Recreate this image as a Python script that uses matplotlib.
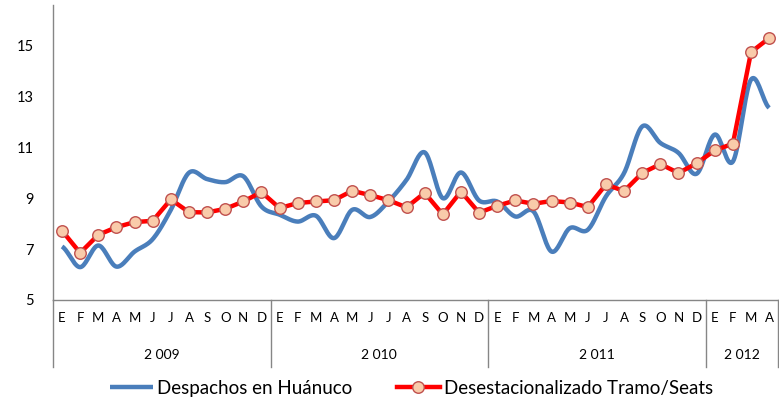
import matplotlib.pyplot as plt
import numpy as np

plt.rcParams['font.family'] = ['Lato', 'DejaVu Sans']

months = ['E', 'F', 'M', 'A', 'M', 'J', 'J', 'A', 'S', 'O', 'N', 'D'] * 3 + ['E', 'F', 'M', 'A']
years = ['2 009', '2 010', '2 011', '2 012']
year_len = [12, 12, 12, 4]

despachos = [7.10, 6.29, 7.14, 6.31, 6.90, 7.39, 8.54, 10.0, 9.75, 9.63, 9.86, 8.67,
             8.35, 8.08, 8.31, 7.43, 8.54, 8.26, 8.87, 9.72, 10.80, 9.00, 10.01, 8.91,
             8.87, 8.28, 8.48, 6.90, 7.82, 7.76, 9.07, 9.99, 11.82, 11.17, 10.78, 9.96,
             11.50, 10.44, 13.66, 12.55]
desest = [7.72, 6.85, 7.56, 7.86, 8.06, 8.11, 8.95, 8.45, 8.44, 8.58, 8.87, 9.24,
          8.61, 8.81, 8.87, 8.92, 9.29, 9.12, 8.92, 8.64, 9.21, 8.36, 9.26, 8.43,
          8.70, 8.91, 8.78, 8.89, 8.83, 8.65, 9.54, 9.28, 9.99, 10.34, 9.99, 10.37,
          10.88, 11.14, 14.74, 15.29]


def smooth(y, n=20):
    # Excel-style smoothed line (Catmull-Rom through the points)
    y = np.asarray(y, float)
    p = np.concatenate([[y[0]], y, [y[-1]]])
    xs, ys = [], []
    t = np.linspace(0, 1, n, endpoint=False)
    for i in range(len(y) - 1):
        p0, p1, p2, p3 = p[i], p[i + 1], p[i + 2], p[i + 3]
        m1 = (p2 - p0) / 2
        m2 = (p3 - p1) / 2
        h = (2*t**3 - 3*t**2 + 1)*p1 + (t**3 - 2*t**2 + t)*m1 + (-2*t**3 + 3*t**2)*p2 + (t**3 - t**2)*m2
        xs.extend(i + t)
        ys.extend(h)
    xs.append(len(y) - 1)
    ys.append(y[-1])
    return np.array(xs), np.array(ys)


x = np.arange(len(desest))
sx, sy = smooth(despachos)

fig = plt.figure(figsize=(7.79, 4.01), dpi=100)
ax = fig.add_axes([0.068, 0.252, 0.931, 0.736])

ax.plot(sx, sy, color='#4A7EBB', lw=3.2, label='Despachos en Huánuco', solid_capstyle='butt')
ax.plot(x, desest, color='#FF0000', lw=3.2, marker='o', ms=8.3, mfc='#F9CBAA', mec='#C0504D',
        mew=1.0, label='Desestacionalizado Tramo/Seats', zorder=3)

ax.set_xlim(-0.5, len(x) - 0.5)
ax.set_ylim(5, 16.6)
ax.set_yticks([5, 7, 9, 11, 13, 15])
ax.tick_params(axis='y', length=0, labelsize=10.5, pad=14)
ax.set_xticks(x)
ax.set_xticklabels(months)
ax.tick_params(axis='x', length=0, labelsize=9.5, pad=9)

for s in ['top', 'right']:
    ax.spines[s].set_visible(False)
for s in ['left', 'bottom']:
    ax.spines[s].set_color('#868686')
    ax.spines[s].set_linewidth(1.0)

# year separators and labels
tr = ax.get_xaxis_transform()
edges = np.concatenate([[0], np.cumsum(year_len)]) - 0.5
for e in edges:
    ax.plot([e, e], [0, -0.227], transform=tr, color='#868686', lw=1.0, clip_on=False)
for i, yr in enumerate(years):
    ax.text((edges[i] + edges[i + 1]) / 2, -0.186, yr, transform=tr, ha='center', va='center',
            fontsize=10)

fig.legend(loc='center', bbox_to_anchor=(0.528, 0.032), ncol=2, frameon=False, fontsize=13.5,
           handlelength=2.3, columnspacing=2.4, handletextpad=0.2)

fig.savefig('out.png', dpi=100)
